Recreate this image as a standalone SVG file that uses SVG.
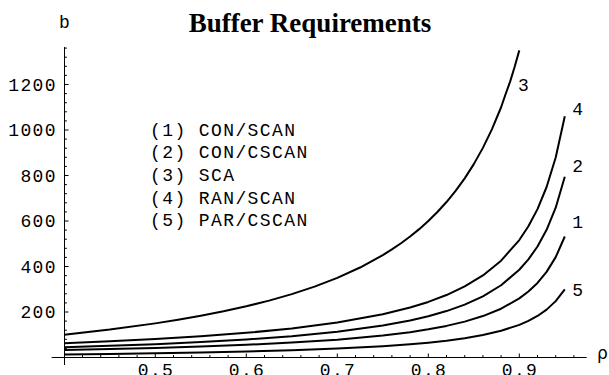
<svg xmlns="http://www.w3.org/2000/svg" width="609" height="375" viewBox="0 0 609 375">
<style>
.mono{font-family:"Liberation Mono","DejaVu Sans Mono",monospace;font-size:18px;letter-spacing:1.4px;fill:#000}
.ax{stroke:#000;stroke-width:1;fill:none}
.curve{stroke:#000;stroke-width:2;fill:none;stroke-linejoin:round;stroke-linecap:butt}
.title{font-family:"Liberation Serif","Times New Roman",serif;font-weight:bold;font-size:27px;fill:#000}
</style>
<rect width="609" height="375" fill="#fff"/>
<text class="title" x="310" y="31.7" text-anchor="middle">Buffer Requirements</text>
<g id="axes">
<path class="ax" d="M51.7 357.5H586.7M64.5 47V365"/>
<path class="ax" d="M64.5 348.4h2.4M64.5 339.3h2.4M64.5 330.2h2.4M64.5 321.1h2.4M64.5 312h4M64.5 302.9h2.4M64.5 293.8h2.4M64.5 284.7h2.4M64.5 275.6h2.4M64.5 266.5h4M64.5 257.4h2.4M64.5 248.3h2.4M64.5 239.2h2.4M64.5 230.1h2.4M64.5 221h4M64.5 211.9h2.4M64.5 202.8h2.4M64.5 193.7h2.4M64.5 184.6h2.4M64.5 175.5h4M64.5 166.4h2.4M64.5 157.3h2.4M64.5 148.2h2.4M64.5 139.1h2.4M64.5 130h4M64.5 120.9h2.4M64.5 111.8h2.4M64.5 102.7h2.4M64.5 93.6h2.4M64.5 84.5h4M64.5 75.4h2.4M64.5 66.3h2.4M64.5 57.2h2.4M64.5 48.1h2.4"/>
<path class="ax" d="M82.5 357.5v-2.4M100.7 357.5v-2.4M118.9 357.5v-2.4M137.1 357.5v-2.4M155.3 357.5v-4M173.5 357.5v-2.4M191.7 357.5v-2.4M209.9 357.5v-2.4M228.1 357.5v-2.4M246.3 357.5v-4M264.5 357.5v-2.4M282.7 357.5v-2.4M300.9 357.5v-2.4M319.1 357.5v-2.4M337.3 357.5v-4M355.5 357.5v-2.4M373.7 357.5v-2.4M391.9 357.5v-2.4M410.1 357.5v-2.4M428.3 357.5v-4M446.5 357.5v-2.4M464.7 357.5v-2.4M482.9 357.5v-2.4M501.1 357.5v-2.4M519.3 357.5v-4M537.5 357.5v-2.4M555.7 357.5v-2.4M573.9 357.5v-2.4"/>
<g class="mono" text-anchor="end">
<text x="57" y="90.8">1200</text>
<text x="57" y="136.3">1000</text>
<text x="57" y="181.8">800</text>
<text x="57" y="227.3">600</text>
<text x="57" y="272.8">400</text>
<text x="57" y="318.3">200</text>
</g>
<g class="mono" text-anchor="middle">
<text x="156" y="375.5">0.5</text>
<text x="247" y="375.5">0.6</text>
<text x="338" y="375.5">0.7</text>
<text x="429" y="375.5">0.8</text>
<text x="520" y="375.5">0.9</text>
<text x="65.2" y="28.3">b</text>
</g>
<text x="597" y="359" style="font-family:'DejaVu Sans',sans-serif;font-size:17px">ρ</text>
</g>
<g id="legend" class="mono">
<text x="150" y="135.5">(1) CON/SCAN</text>
<text x="150" y="158.2">(2) CON/CSCAN</text>
<text x="150" y="180.9">(3) SCA</text>
<text x="150" y="203.6">(4) RAN/SCAN</text>
<text x="150" y="226.3">(5) PAR/CSCAN</text>
</g>
<g id="curves">
<polyline id="curve3" class="curve" points="64.3,334.75 109.8,329.58 155.3,323.38 178.05,319.8 200.8,315.79 223.55,311.33 246.3,306.31 269.05,300.63 291.8,294.12 314.55,286.63 337.3,277.87 360.05,267.53 382.8,255.12 391.9,249.44 401,243.26 410.1,236.51 419.2,229.13 428.3,221 437.4,212.02 446.5,202.04 455.6,190.89 464.7,178.34 473.8,164.12 482.9,147.87 492,129.13 501.1,107.25 505.65,94 510.2,81.4 514.75,66.57 519.3,50.37"/>
<polyline id="curve4" class="curve" points="64.3,343.18 109.8,341.3 155.3,339.05 200.8,336.3 246.3,332.87 291.8,328.45 337.3,322.55 382.8,314.3 410.1,307.55 428.3,301.93 446.5,295.05 464.7,286.46 482.9,275.41 501.1,260.67 519.3,240.05 528.4,226.3 537.5,209.11 546.6,187 555.7,157.54 564.8,116.29"/>
<polyline id="curve2" class="curve" points="64.3,347.27 109.8,345.86 155.3,344.17 200.8,342.1 246.3,339.51 291.8,336.19 337.3,331.76 382.8,325.55 410.1,320.48 428.3,316.25 446.5,311.08 464.7,304.62 482.9,296.31 501.1,285.23 519.3,269.72 528.4,259.39 537.5,246.46 546.6,229.84 555.7,207.69 564.8,176.67"/>
<polyline id="curve1" class="curve" points="64.3,349.96 109.8,349.03 155.3,347.9 200.8,346.53 246.3,344.81 291.8,342.6 337.3,339.65 382.8,335.53 410.1,332.15 428.3,329.34 446.5,325.9 464.7,321.6 482.9,316.08 501.1,308.71 519.3,298.4 528.4,291.52 537.5,282.93 546.6,271.88 555.7,257.14 564.8,236.52"/>
<polyline id="curve5" class="curve" points="64.3,354.54 109.8,354 155.3,353.35 200.8,352.56 246.3,351.57 291.8,350.3 337.3,348.6 382.8,346.23 410.1,344.29 428.3,342.67 446.5,340.69 464.7,338.22 482.9,335.04 501.1,330.8 519.3,324.87 528.4,320.91 537.5,315.97 546.6,309.61 555.7,301.14 564.8,289.27"/>
</g>
<g id="curve-labels" class="mono" text-anchor="middle">
<text x="524" y="90.8">3</text>
<text x="578.4" y="115.1">4</text>
<text x="578.4" y="171.8">2</text>
<text x="578.4" y="227.5">1</text>
<text x="578.4" y="295.8">5</text>
</g>
</svg>
